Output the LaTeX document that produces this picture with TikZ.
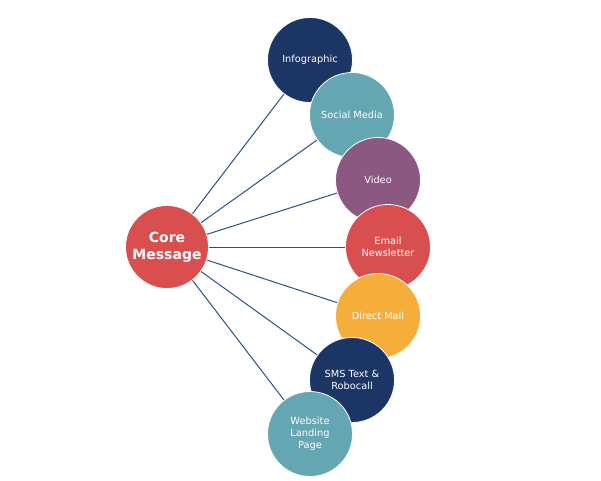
\documentclass[tikz,border=0pt]{standalone}
\usepackage{fontspec}
\setmainfont{DejaVu Sans}
\definecolor{navy}{HTML}{1B3564}
\definecolor{teal}{HTML}{65A6B3}
\definecolor{plum}{HTML}{8B5882}
\definecolor{coral}{HTML}{D94F4F}
\definecolor{amber}{HTML}{F5AE3A}
\definecolor{linkc}{HTML}{2E4F85}
\begin{document}
\begin{tikzpicture}[x=1pt,y=-1pt,
  bubble/.style={circle,draw=white,line width=0.8pt,minimum size=85pt,inner sep=0pt,
    text=white,font=\fontsize{9.8}{11.8}\selectfont,align=center},
  link/.style={draw=linkc,line width=1pt}]
\useasboundingbox[fill=white] (0,0) rectangle (601,480);
\coordinate (c) at (167,247);
\coordinate (p1) at (310,60);
\coordinate (p2) at (352,115);
\coordinate (p3) at (378,180);
\coordinate (p4) at (388,247);
\coordinate (p5) at (378,316);
\coordinate (p6) at (352,380);
\coordinate (p7) at (310,434);
\foreach \i in {1,...,7} \draw[link] (c) -- (p\i);
\node[bubble,fill=coral,minimum size=83pt,font=\bfseries\fontsize{14}{17}\selectfont] (core) at (c) {Core\\Message};
\node[bubble,fill=navy] (n1) at (p1) {Infographic};
\node[bubble,fill=teal] (n2) at (p2) {Social Media};
\node[bubble,fill=plum] (n3) at (p3) {Video};
\node[bubble,fill=coral] (n4) at (p4) {Email\\Newsletter};
\node[bubble,fill=amber] (n5) at (p5) {Direct Mail};
\node[bubble,fill=navy] (n6) at (p6) {SMS Text \&\\Robocall};
\node[bubble,fill=teal] (n7) at (p7) {Website\\Landing\\Page};
\end{tikzpicture}
\end{document}
